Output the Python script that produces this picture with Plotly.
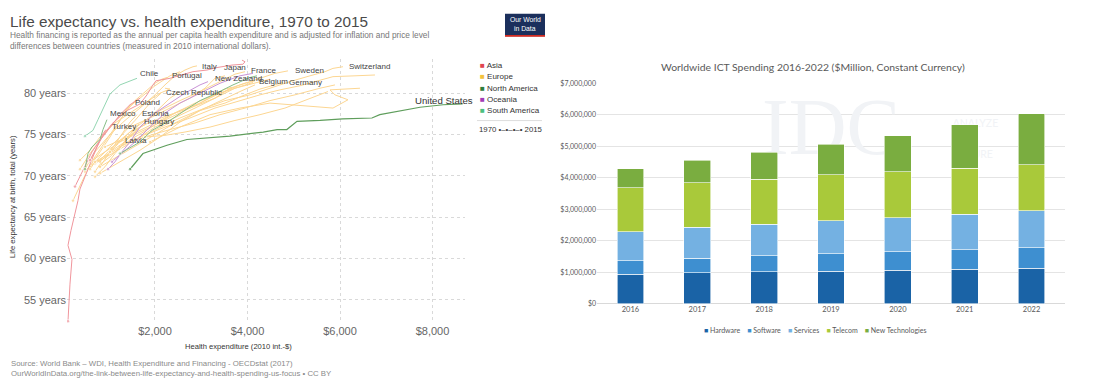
import plotly.graph_objects as go

W, H = 1110, 391

# ---------------- Left chart: life expectancy vs health expenditure (1970 -> 2015) ----------------
# Health expenditure per capita (2010 int.-$) and life expectancy (years)
united_states_spend = [1460, 1740, 2260, 2690, 3620, 4340, 4640, 4850, 5070, 5570, 6060, 6690, 6860, 7300, 7730, 8230, 8650]
united_states_life = [70.8, 72.7, 73.7, 74.4, 74.8, 75.3, 75.6, 75.6, 76.6, 76.7, 76.9, 77.0, 77.4, 77.9, 78.3, 78.6, 78.7]
canada_spend = [1243, 1676, 1935, 2324, 2692, 2973, 3254, 3686, 4054, 4205]
canada_life = [72.7, 74.1, 75.5, 76.7, 78.1, 79.1, 79.8, 81.0, 81.9, 82.1]
mexico_spend = [486, 551, 638, 811, 876, 962]
mexico_life = [70.8, 72.7, 73.5, 74.4, 75.6, 76.8]
chile_spend = [486, 659, 768, 854, 1027, 1243, 1459, 1611]
chile_life = [74.8, 75.5, 76.8, 77.8, 79.9, 81.0, 81.5, 81.8]
turkey_spend = [119, 141, 162, 205, 119, 184, 292, 335, 378, 486, 595, 746, 876, 941]
turkey_life = [52.4, 55.1, 56.9, 59.9, 61.6, 63.4, 65.8, 67.0, 68.4, 69.9, 71.5, 73.5, 75.1, 75.6]
japan_spend = [595, 746, 876, 1070, 1394, 1676, 1827, 1957, 2021, 2324, 2821, 3124, 3340, 3665, 3902, 3946, 3881]
japan_life = [71.9, 73.5, 74.9, 76.3, 77.9, 78.7, 79.8, 81.0, 81.5, 81.8, 82.6, 82.8, 83.1, 83.4, 83.5, 83.8, 84.0]
korea_spend = [270, 378, 486, 638, 811, 1027, 1243, 1459, 1676]
korea_life = [68.7, 69.9, 71.1, 72.9, 74.3, 75.9, 77.4, 78.6, 79.4]
australia_spend = [1070, 1200, 1351, 1567, 1892, 2216, 2540, 2973, 3405, 3837, 4119]
australia_life = [71.7, 72.3, 73.1, 74.1, 75.9, 77.6, 78.8, 80.0, 81.2, 82.1, 82.4]
new_zealand_spend = [984, 1135, 1286, 1459, 1676, 2000, 2324, 2648, 2973, 3146]
new_zealand_life = [70.8, 71.7, 72.9, 74.1, 75.9, 77.6, 78.8, 80.0, 81.0, 81.4]
portugal_spend = [227, 335, 422, 551, 703, 919, 1135, 1351, 1567, 1784, 2000, 2151, 2259]
portugal_life = [67.0, 68.2, 69.3, 70.8, 72.3, 74.1, 75.9, 77.6, 79.1, 80.2, 81.2, 81.7, 81.9]
italy_spend = [486, 703, 1027, 1351, 1676, 2000, 2216, 2432, 2648, 2821, 2908]
italy_life = [70.8, 72.9, 75.0, 76.7, 78.2, 79.8, 81.0, 82.1, 82.8, 83.2, 83.3]
france_spend = [811, 1135, 1459, 1784, 2108, 2540, 2973, 3405, 3729, 3946]
france_life = [71.7, 73.5, 75.3, 76.7, 77.9, 79.1, 80.2, 81.4, 82.3, 82.6]
sweden_spend = [1200, 1459, 1892, 2324, 2757, 3081, 3405, 3837, 4270, 4594, 4875]
sweden_life = [74.1, 75.3, 76.5, 77.4, 78.2, 79.1, 80.0, 81.0, 81.8, 82.4, 82.7]
switzerland_spend = [1676, 2108, 2540, 3081, 3513, 4054, 4486, 4918, 5351, 5675, 5848, 6064]
switzerland_life = [74.7, 75.9, 77.0, 78.2, 79.1, 79.8, 80.6, 81.4, 82.1, 82.6, 83.0, 83.2]
germany_spend = [811, 1351, 1892, 2432, 2973, 3513, 3946, 4270, 4529, 4767]
germany_life = [71.1, 72.9, 74.7, 76.4, 77.9, 78.8, 79.8, 80.5, 80.9, 81.3]
belgium_spend = [703, 1135, 1567, 2000, 2432, 2865, 3297, 3729, 4119]
belgium_life = [71.5, 72.9, 74.3, 75.9, 77.0, 78.2, 79.4, 80.6, 81.3]
czech_spend = [811, 1027, 1243, 1567, 1892, 2130]
czech_life = [71.1, 72.9, 74.7, 76.7, 78.8, 80.0]
poland_spend = [486, 638, 811, 1027, 1243, 1459]
poland_life = [70.5, 71.5, 72.9, 74.7, 76.7, 78.6]
estonia_spend = [595, 811, 1027, 1243, 1459, 1611]
estonia_life = [71.1, 72.3, 73.5, 74.7, 76.5, 77.4]
hungary_spend = [703, 811, 1027, 1243, 1459, 1654]
hungary_life = [70.5, 71.4, 72.3, 73.5, 75.0, 76.3]
latvia_spend = [595, 703, 811, 984, 1135, 1243]
latvia_life = [70.8, 71.7, 71.9, 72.9, 73.7, 74.2]
norway_spend = [1243, 1676, 2216, 2757, 3297, 3837, 4270, 4702, 5135, 5524, 5848, 6324, 6756]
norway_life = [73.5, 74.7, 75.9, 77.0, 78.2, 79.1, 79.8, 80.4, 80.9, 81.5, 82.0, 82.1, 82.2]
luxembourg_spend = [1892, 2540, 3189, 3837, 4486, 5135, 5848, 6172, 5891, 5783, 6432]
luxembourg_life = [74.1, 75.9, 77.4, 78.2, 78.8, 78.5, 78.2, 79.2, 79.8, 80.4, 80.6]
netherlands_spend = [1459, 1892, 2324, 2865, 3405, 3946, 4486, 5027, 5567, 5891]
netherlands_life = [74.1, 74.9, 75.6, 76.4, 77.4, 78.2, 79.1, 79.8, 80.6, 81.0]
denmark_spend = [1784, 2216, 2648, 3189, 3729, 4270, 4810, 5243, 5567, 5740]
denmark_life = [74.7, 74.9, 75.3, 75.9, 76.7, 77.4, 78.2, 79.1, 79.8, 80.2]
austria_spend = [703, 1135, 1567, 2000, 2432, 2865, 3297, 3729, 4162, 4486]
austria_life = [71.7, 73.1, 74.7, 76.2, 77.6, 78.8, 79.8, 80.6, 81.2, 81.7]
uk_spend = [919, 1243, 1676, 2108, 2540, 2973, 3297, 3513, 3665]
uk_life = [73.5, 74.3, 75.5, 76.7, 77.9, 78.8, 79.8, 80.5, 80.7]
ireland_spend = [595, 919, 1243, 1676, 2216, 2757, 3297, 3621, 3946, 4162]
ireland_life = [71.7, 72.9, 74.1, 75.3, 76.7, 78.2, 79.4, 80.6, 81.2, 81.5]
spain_spend = [378, 595, 811, 1070, 1351, 1676, 2000, 2324, 2540]
spain_life = [70.8, 72.7, 74.3, 76.2, 77.9, 79.4, 80.9, 82.1, 82.6]
greece_spend = [378, 595, 811, 1135, 1459, 1784, 2108, 2324, 2216]
greece_life = [71.9, 73.1, 74.7, 76.4, 77.6, 78.8, 80.0, 80.5, 80.6]
finland_spend = [811, 1243, 1676, 2108, 2540, 2973, 3405, 3837, 4162]
finland_life = [70.3, 71.7, 73.1, 74.7, 76.5, 77.9, 79.1, 80.2, 81.0]
slovenia_spend = [1027, 1351, 1676, 2000, 2324, 2540]
slovenia_life = [72.9, 74.1, 75.9, 77.6, 79.4, 80.2]
slovakia_spend = [703, 919, 1135, 1351, 1567, 1784]
slovakia_life = [69.9, 71.1, 72.7, 74.1, 75.5, 76.2]
iceland_spend = [1459, 1892, 2324, 2757, 3081, 3297, 3513]
iceland_life = [75.9, 77.0, 78.2, 79.4, 80.6, 81.8, 82.1]

regions = ["Asia", "Europe", "North America", "Oceania", "South America"]
life_ticks = [55, 60, 65, 70, 75, 80]
spend_ticks = [2000, 4000, 6000, 8000]

countries = [
    ("Europe", portugal_spend, portugal_life), ("Europe", italy_spend, italy_life),
    ("Europe", france_spend, france_life), ("Europe", sweden_spend, sweden_life),
    ("Europe", switzerland_spend, switzerland_life), ("Europe", germany_spend, germany_life),
    ("Europe", belgium_spend, belgium_life), ("Europe", czech_spend, czech_life),
    ("Europe", poland_spend, poland_life), ("Europe", estonia_spend, estonia_life),
    ("Europe", hungary_spend, hungary_life), ("Europe", latvia_spend, latvia_life),
    ("Europe", norway_spend, norway_life), ("Europe", luxembourg_spend, luxembourg_life),
    ("Europe", netherlands_spend, netherlands_life), ("Europe", denmark_spend, denmark_life),
    ("Europe", austria_spend, austria_life), ("Europe", uk_spend, uk_life),
    ("Europe", ireland_spend, ireland_life), ("Europe", spain_spend, spain_life),
    ("Europe", greece_spend, greece_life), ("Europe", finland_spend, finland_life),
    ("Europe", slovenia_spend, slovenia_life), ("Europe", slovakia_spend, slovakia_life),
    ("Europe", iceland_spend, iceland_life),
    ("Oceania", australia_spend, australia_life), ("Oceania", new_zealand_spend, new_zealand_life),
    ("Asia", korea_spend, korea_life), ("Asia", turkey_spend, turkey_life), ("Asia", japan_spend, japan_life),
    ("South America", chile_spend, chile_life),
    ("North America", mexico_spend, mexico_life), ("North America", canada_spend, canada_life),
]

# country labels: (name, expenditure, life expectancy) anchor
country_labels = [
    ("Chile", 1632, 82.4), ("Portugal", 2324, 82.1), ("Italy", 2973, 83.2), ("Japan", 3448, 83.1),
    ("France", 4032, 82.8), ("Sweden", 4983, 82.8), ("Switzerland", 6151, 83.2),
    ("New Zealand", 3254, 81.8), ("Belgium", 4205, 81.4), ("Germany", 4854, 81.3),
    ("Czech Republic", 2194, 80.1), ("Poland", 1524, 78.9), ("Mexico", 984, 77.5),
    ("Estonia", 1676, 77.5), ("Hungary", 1719, 76.6), ("Turkey", 1027, 76.0), ("Latvia", 1308, 74.3),
]

# ---------------- Right chart: Worldwide ICT spending ----------------
years = ["2016", "2017", "2018", "2019", "2020", "2021", "2022"]
hardware = [930000, 980000, 1010000, 1030000, 1060000, 1090000, 1120000]
software = [430000, 470000, 520000, 560000, 590000, 630000, 660000]
services = [930000, 980000, 1000000, 1050000, 1080000, 1120000, 1170000]
telecom = [1400000, 1410000, 1430000, 1450000, 1460000, 1470000, 1470000]
new_technologies = [600000, 720000, 860000, 970000, 1140000, 1370000, 1620000]
ict_ticks = [0, 1000000, 2000000, 3000000, 4000000, 5000000, 6000000, 7000000]

# ---------------- styles ----------------
line_col = {"Asia": "#f0959c", "Europe": "#fcd692", "North America": "#86bd86",
            "Oceania": "#c993d6", "South America": "#93d6b2"}
legend_col = {"Asia": "#e0454f", "Europe": "#f3c23c", "North America": "#2f7d3a",
              "Oceania": "#a23cb5", "South America": "#4cbf7f"}
ict_series = [("Hardware", hardware, "#1a63a6"), ("Software", software, "#3e8fd0"),
              ("Services", services, "#74b1e2"), ("Telecom", telecom, "#a9c93a"),
              ("New Technologies", new_technologies, "#7aad40")]

SANS = "Liberation Sans, Arial, sans-serif"
CAL = "Lato, Open Sans, sans-serif"


def px(x, y):
    return x / W, 1 - y / H


fig = go.Figure()

for reg, xs, ys in countries:
    n = len(xs)
    fig.add_trace(go.Scatter(x=xs, y=ys, mode="lines+markers", xaxis="x", yaxis="y",
                             line=dict(color=line_col[reg], width=1),
                             marker=dict(size=[3.5] + [0] * (n - 1), color=line_col[reg]),
                             showlegend=False, hoverinfo="skip"))
fig.add_trace(go.Scatter(x=united_states_spend, y=united_states_life, mode="lines+markers",
                         xaxis="x", yaxis="y",
                         line=dict(color="#5f9e5c", width=1.2),
                         marker=dict(size=[3.5] + [0] * (len(united_states_spend) - 1), color="#5f9e5c"),
                         showlegend=False, hoverinfo="skip"))

# faint watermark on the base subplot (drawn below the bars)
fig.add_trace(go.Scatter(x=[0.50], y=[0.77], mode="text", text=["IDC"], xaxis="x2", yaxis="y2",
                         textfont=dict(family="Liberation Serif, serif", size=80, color="#f1f3f6"),
                         showlegend=False, hoverinfo="skip", cliponaxis=False))
fig.add_trace(go.Scatter(x=[0.76, 0.76, 0.76], y=[0.815, 0.745, 0.675], mode="text",
                         text=["ANALYZE", "THE", "FUTURE"], textposition="middle right",
                         xaxis="x2", yaxis="y2",
                         textfont=dict(family=CAL, size=10.5, color="#f1f3f6"),
                         showlegend=False, hoverinfo="skip", cliponaxis=False))

for name, vals, col in ict_series:
    fig.add_trace(go.Bar(x=years, y=vals, name=name, xaxis="x3", yaxis="y3",
                         marker=dict(color=col, line=dict(color="white", width=0.6)),
                         showlegend=False, hoverinfo="skip"))

ann = []
# left titles
x0, y0 = px(8, 17)
ann.append(dict(x=x0, y=y0, text="Life expectancy vs. health expenditure, 1970 to 2015", xanchor="left",
                yanchor="middle", font=dict(family=SANS, size=15.3, color="#4a4a4a")))
for i, t in enumerate(["Health financing is reported as the annual per capita health expenditure and is adjusted for inflation and price level",
                       "differences between countries (measured in 2010 international dollars)."]):
    x0, y0 = px(8, 31 + 11 * i)
    ann.append(dict(x=x0, y=y0, text=t, xanchor="left", yanchor="middle",
                    font=dict(family=SANS, size=8.3, color="#777777")))
for i, t in enumerate(["Source: World Bank – WDI, Health Expenditure and Financing - OECDstat (2017)",
                       "OurWorldInData.org/the-link-between-life-expectancy-and-health-spending-us-focus • CC BY"]):
    x0, y0 = px(9, 366 + 10 * i)
    ann.append(dict(x=x0, y=y0, text=t, xanchor="left", yanchor="middle",
                    font=dict(family=SANS, size=7.8, color="#8a8a8a")))
# axis titles
x0, y0 = px(238, 349)
ann.append(dict(x=x0, y=y0, text="Health expenditure (2010 int.-$)", xanchor="center", yanchor="middle",
                font=dict(family=SANS, size=7.6, color="#333333")))
x0, y0 = px(13, 196)
ann.append(dict(x=x0, y=y0, text="Life expectancy at birth, total (years)", textangle=-90,
                xanchor="center", yanchor="middle", font=dict(family=SANS, size=7.6, color="#333333")))
# country labels
for name, xv, yv in country_labels:
    ann.append(dict(x=xv, y=yv, xref="x", yref="y", text=name, showarrow=False, xanchor="left",
                    yanchor="middle", font=dict(family=SANS, size=8, color="#444444")))
ann.append(dict(x=7578, y=79.1, xref="x", yref="y", text="United States", showarrow=False, xanchor="left",
                yanchor="middle", font=dict(family=SANS, size=9.6, color="#333333")))
# OWID legend
for i, r in enumerate(regions):
    x0, y0 = px(478, 62 + 11.5 * i)
    ann.append(dict(x=x0, y=y0, text=f"<span style='color:{legend_col[r]}'>■</span> {r}", xanchor="left",
                    yanchor="middle", font=dict(family=SANS, size=8, color="#333333")))
x0, y0 = px(477, 127)
ann.append(dict(x=x0, y=y0, text="1970 •–•–•–• 2015", xanchor="left", yanchor="middle",
                font=dict(family=SANS, size=7.8, color="#333333")))
# logo text
x0, y0 = px(525, 15)
ann.append(dict(x=x0, y=y0, text="Our World", xanchor="center", yanchor="middle",
                font=dict(family=SANS, size=6.8, color="white")))
x0, y0 = px(525, 24)
ann.append(dict(x=x0, y=y0, text="in Data", xanchor="center", yanchor="middle",
                font=dict(family=SANS, size=6.8, color="white")))
# right title
x0, y0 = px(813, 63)
ann.append(dict(x=x0, y=y0, text="Worldwide ICT Spending 2016-2022 ($Million, Constant Currency)",
                xanchor="center", yanchor="middle", font=dict(family=CAL, size=10.4, color="#595959")))
# right legend
legend_html = "&nbsp;&nbsp;&nbsp;&nbsp;".join(
    f"<span style='color:{c}'>■</span> {n}" for n, _, c in ict_series)
x0, y0 = px(815, 332)
ann.append(dict(x=x0, y=y0, text=legend_html, xanchor="center", yanchor="middle",
                font=dict(family=CAL, size=7, color="#595959")))

for a in ann:
    a.setdefault("xref", "paper")
    a.setdefault("yref", "paper")
    a.setdefault("showarrow", False)

shapes = [
    dict(type="rect", xref="paper", yref="paper", x0=505 / W, x1=545 / W, y0=1 - 32 / H, y1=1 - 9 / H,
         fillcolor="#1b2f5c", line=dict(width=0)),
    dict(type="rect", xref="paper", yref="paper", x0=505 / W, x1=545 / W, y0=1 - 32.5 / H, y1=1 - 30.5 / H,
         fillcolor="#d42b21", line=dict(width=0)),
    dict(type="line", xref="paper", yref="paper", x0=477 / W, x1=542 / W, y0=1 - 118 / H, y1=1 - 118 / H,
         line=dict(color="#dddddd", width=1)),
]

grid_dot = dict(showgrid=True, gridcolor="#d9d9d9", griddash="dot", gridwidth=1, zeroline=False,
                showline=False, ticks="")

fig.update_layout(
    width=W, height=H, margin=dict(l=0, r=0, t=0, b=0),
    paper_bgcolor="white", plot_bgcolor="rgba(0,0,0,0)",
    showlegend=False, barmode="stack", bargap=0.6,
    annotations=ann, shapes=shapes,
    xaxis=dict(domain=[67.1 / W, 464.9 / W], range=[100, 8700], anchor="y",
               tickvals=spend_ticks, ticktext=[f"${v:,}" for v in spend_ticks],
               tickfont=dict(family=SANS, size=11, color="#666666"), **grid_dot),
    yaxis=dict(domain=[1 - 325 / H, 1 - 55 / H], range=[52.16, 84.15], anchor="x",
               tickvals=life_ticks, ticktext=[f"{v} years" for v in life_ticks],
               tickfont=dict(family=SANS, size=11, color="#666666"), **grid_dot),
    xaxis2=dict(domain=[597 / W, 1065 / W], range=[0, 1], anchor="y2", visible=False, fixedrange=True),
    yaxis2=dict(domain=[1 - 305 / H, 1 - 80 / H], range=[0, 1], anchor="x2", visible=False, fixedrange=True),
    xaxis3=dict(overlaying="x2", anchor="y3", type="category", showgrid=False, zeroline=False,
                showline=False, ticks="", tickfont=dict(family=CAL, size=7.5, color="#595959")),
    yaxis3=dict(overlaying="y2", anchor="x3", range=[0, 7000000], tickvals=ict_ticks,
                ticktext=[f"${v:,}" for v in ict_ticks], showgrid=True, gridcolor="#e4e4e4", gridwidth=1,
                zeroline=True, zerolinecolor="#d9d9d9", zerolinewidth=1, showline=False, ticks="",
                tickfont=dict(family=CAL, size=7, color="#595959")),
)

fig.write_html("out.html", config={"displayModeBar": False},
               post_script="document.body.style.margin='0';")
